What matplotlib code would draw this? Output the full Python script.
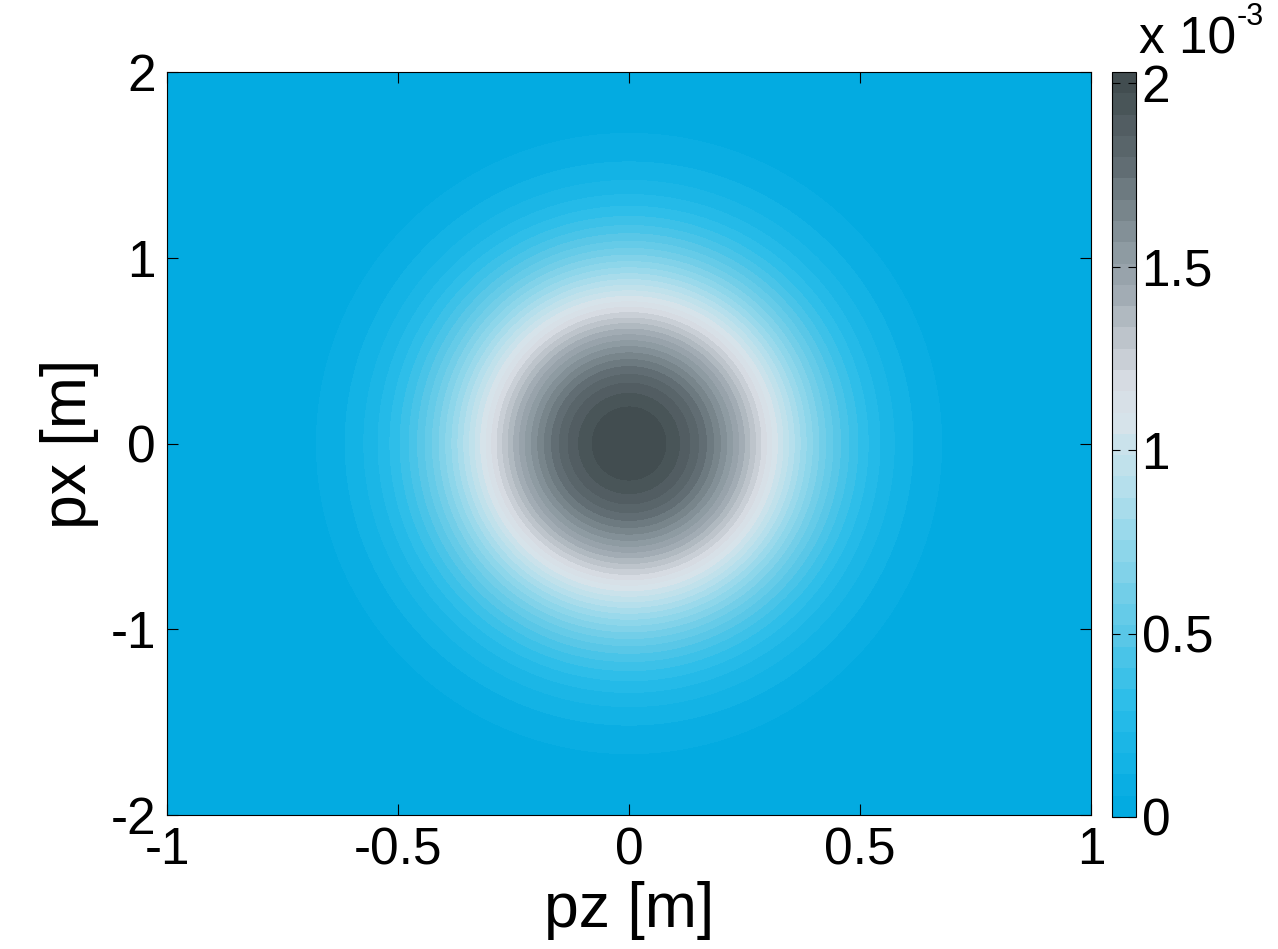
import matplotlib
matplotlib.use("Agg")
import matplotlib.pyplot as plt
import numpy as np
from matplotlib.colors import LinearSegmentedColormap

plt.rcParams["font.family"] = ["Liberation Sans", "DejaVu Sans"]

# surface parameters (slightly flat-topped bump)
peak = 2.03e-3
width_pz = 0.385
width_px = 0.95
shape_exp = 2.25
n_levels = 35

pz = np.linspace(-1, 1, 401)
px = np.linspace(-2, 2, 401)
PZ, PX = np.meshgrid(pz, px)
R = np.sqrt((PZ / width_pz) ** 2 + (PX / width_px) ** 2)
Z = peak * np.exp(-R**shape_exp)

x_ticks = [-1, -0.5, 0, 0.5, 1]
x_labels = ["-1", "-0.5", "0", "0.5", "1"]
y_ticks = [-2, -1, 0, 1, 2]
y_labels = ["-2", "-1", "0", "1", "2"]
cb_ticks = [0, 0.5e-3, 1e-3, 1.5e-3, 2e-3]
cb_labels = ["0", "0.5", "1", "1.5", "2"]

anchors = [
    (0.00, "#00a9e0"),
    (0.05, "#0db0e4"),
    (0.15, "#2bbde9"),
    (0.25, "#5cc8e7"),
    (0.35, "#8ad5ea"),
    (0.45, "#b8e0ec"),
    (0.53, "#d6e3ea"),
    (0.58, "#d8dde4"),
    (0.63, "#c3c9d0"),
    (0.70, "#a3adb5"),
    (0.78, "#86939a"),
    (0.88, "#5f6b71"),
    (1.00, "#3f4a4c"),
]
cmap = LinearSegmentedColormap.from_list("bluegray", anchors)

fig = plt.figure(figsize=(12.78, 9.49), dpi=100)
ax = fig.add_axes([0.1307, 0.1412, 0.7230, 0.7829])
cax = fig.add_axes([0.8701, 0.1391, 0.0188, 0.7850])

levels = np.linspace(0, peak, n_levels + 1)
cs = ax.contourf(PZ, PX, Z, levels=levels, cmap=cmap)

ax.set_xlim(-1, 1)
ax.set_ylim(-2, 2)
ax.set_xticks(x_ticks)
ax.set_xticklabels(x_labels)
ax.set_yticks(y_ticks)
ax.set_yticklabels(y_labels)
ax.tick_params(direction="in", length=8, width=0.8, labelsize=37,
               top=True, right=True, pad=8)
ax.set_xlabel("pz [m]", fontsize=45, labelpad=4)
ax.set_ylabel("px [m]", fontsize=45, labelpad=8)
for s in ax.spines.values():
    s.set_linewidth(0.8)

cb = fig.colorbar(cs, cax=cax)
cb.set_ticks(cb_ticks)
cb.set_ticklabels(cb_labels)
cb.ax.tick_params(direction="in", length=6, width=0.8, labelsize=37,
                  left=True, right=True, pad=4)
cb.outline.set_linewidth(0.8)

fig.text(0.891, 0.944, "x 10", fontsize=37, ha="left", va="baseline")
fig.text(0.968, 0.974, "-3", fontsize=22, ha="left", va="baseline")

fig.savefig("out.png", dpi=100)
